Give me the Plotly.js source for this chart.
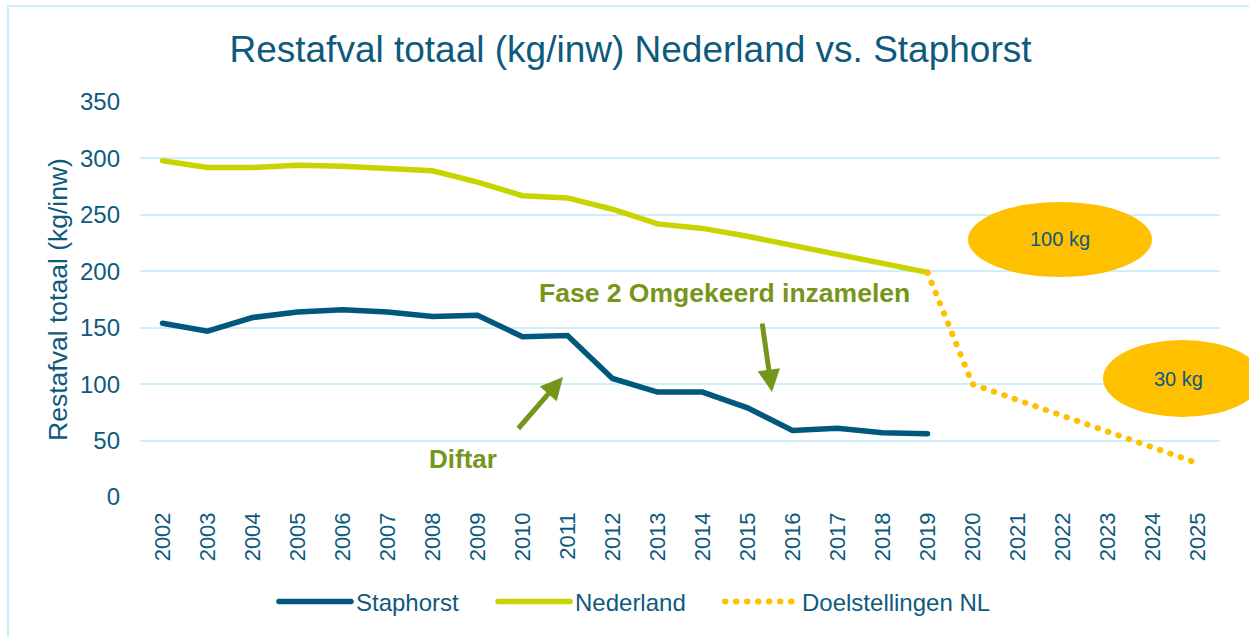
<!DOCTYPE html>
<html>
<head>
<meta charset="utf-8">
<script src="https://cdn.plot.ly/plotly-3.0.1.min.js"></script>
<style>
  html, body { margin: 0; padding: 0; background: #ffffff; }
  #chart { width: 1249px; height: 637px; }
</style>
</head>
<body>
<div id="chart"></div>
<script>
// ---- data ----
const years = ['2002','2003','2004','2005','2006','2007','2008','2009','2010','2011','2012','2013',
               '2014','2015','2016','2017','2018','2019','2020','2021','2022','2023','2024','2025'];
const measuredYears = years.slice(0, 18); // 2002..2019
const staphorst = [154, 147, 159, 164, 166, 164, 160, 161, 142, 143, 105, 93, 93, 79, 59, 61, 57, 56];
const nederland = [298, 292, 292, 294, 293, 291, 289, 279, 267, 265, 255, 242, 238, 231, 223, 214, 207, 199];
const doelYears = ['2019', '2020', '2025'];
const doelstellingen = [199, 100, 30];
const seriesNames = ['Staphorst', 'Nederland', 'Doelstellingen NL'];
const titleText = 'Restafval totaal (kg/inw) Nederland vs. Staphorst';
const yTitleText = 'Restafval totaal (kg/inw)';
const ellipseLabels = ['100 kg', '30 kg'];
const noteLabels = ['Fase 2 Omgekeerd inzamelen', 'Diftar'];

// ---- styling ----
const FONT = 'Liberation Sans, Arial, Helvetica, sans-serif';
const TXT = '#0e5a7d';
const BLUE = '#00587c';
const LIME = '#c8d400';
const GOLD = '#ffc000';
const GRID = '#cdeefb';
const GREEN = '#76961b';

// pixel helpers for layout-only positions (plot area: x 140..1220, y 102..497)
const L = 140, R = 1220, T = 102, B = 497, W = 1249, H = 637;
const px = v => (v - L) / (R - L);
const py = v => (B - v) / (B - T);

const traces = [
  { x: measuredYears, y: staphorst, name: seriesNames[0], type: 'scatter', mode: 'lines',
    line: { color: BLUE, width: 5.5 }, legend: 'legend' },
  { x: measuredYears, y: nederland, name: seriesNames[1], type: 'scatter', mode: 'lines',
    line: { color: LIME, width: 5.5 }, legend: 'legend2' },
  { x: doelYears, y: doelstellingen, name: seriesNames[2], type: 'scatter', mode: 'lines',
    line: { color: GOLD, width: 6, dash: '0.5px,10.5px' }, legend: 'legend3' }
];

const legendBase = { orientation: 'h', xanchor: 'left', y: py(602), yanchor: 'middle',
                     font: { size: 24, color: TXT }, itemwidth: 72, bgcolor: 'rgba(0,0,0,0)' };
const LEG_OFF = 4;

const layout = {
  width: W, height: H,
  paper_bgcolor: '#ffffff', plot_bgcolor: '#ffffff',
  margin: { l: L, r: W - R, t: T, b: H - B },
  font: { family: FONT, color: TXT },
  title: { text: titleText, font: { family: FONT, size: 37, color: TXT },
           xref: 'container', x: 630.5 / W, xanchor: 'center',
           yref: 'container', y: 1 - 49 / H, yanchor: 'middle' },
  xaxis: {
    type: 'category', categoryorder: 'array', categoryarray: years,
    range: [-0.5, years.length - 0.5],
    tickangle: -90, tickfont: { size: 22, color: TXT },
    showgrid: false, zeroline: false, showline: false, ticks: '',
    ticklabelstandoff: 10
  },
  yaxis: {
    range: [0, 350], dtick: 50, tick0: 0,
    tickfont: { size: 24, color: TXT },
    showgrid: true, gridcolor: GRID, gridwidth: 2,
    zeroline: false, showline: false, ticks: '',
    ticklabelstandoff: 19,
    title: { text: yTitleText, font: { size: 26.5, color: TXT }, standoff: 4 }
  },
  showlegend: true,
  legend:  Object.assign({}, legendBase, { x: px(278 - LEG_OFF) }),
  legend2: Object.assign({}, legendBase, { x: px(497 - LEG_OFF) }),
  legend3: Object.assign({}, legendBase, { x: px(724 - LEG_OFF) }),
  shapes: [
    { type: 'rect', xref: 'paper', yref: 'paper', x0: px(8), x1: px(1290), y0: py(6), y1: py(700),
      line: { color: GRID, width: 2 }, fillcolor: 'rgba(0,0,0,0)', layer: 'below' },
    { type: 'circle', xref: 'paper', yref: 'paper', x0: px(968), x1: px(1152), y0: py(202), y1: py(277),
      fillcolor: GOLD, line: { width: 0 }, layer: 'above' },
    { type: 'circle', xref: 'paper', yref: 'paper', x0: px(1103), x1: px(1262), y0: py(340), y1: py(417),
      fillcolor: GOLD, line: { width: 0 }, layer: 'above' }
  ],
  annotations: [
    { xref: 'paper', yref: 'paper', x: px(1060), y: py(239), text: ellipseLabels[0], showarrow: false,
      font: { size: 20, color: TXT }, xanchor: 'center', yanchor: 'middle' },
    { xref: 'paper', yref: 'paper', x: px(1178), y: py(379), text: ellipseLabels[1], showarrow: false,
      font: { size: 20, color: TXT }, xanchor: 'center', yanchor: 'middle' },
    { xref: 'paper', yref: 'paper', x: px(724), y: py(293), text: '<b>' + noteLabels[0] + '</b>', showarrow: false,
      font: { size: 26.5, color: GREEN }, xanchor: 'center', yanchor: 'middle' },
    { xref: 'paper', yref: 'paper', x: px(463), y: py(459), text: '<b>' + noteLabels[1] + '</b>', showarrow: false,
      font: { size: 26, color: GREEN }, xanchor: 'center', yanchor: 'middle' },
    // arrows
    { xref: 'paper', yref: 'paper', x: px(563), y: py(377), ax: -46, ay: 53, text: '', showarrow: true,
      arrowhead: 2, arrowsize: 0.9, arrowwidth: 5, arrowcolor: GREEN, standoff: 0, startstandoff: 0 },
    { xref: 'paper', yref: 'paper', x: px(772), y: py(392), ax: -10, ay: -70, text: '', showarrow: true,
      arrowhead: 2, arrowsize: 0.9, arrowwidth: 5, arrowcolor: GREEN, standoff: 0, startstandoff: 0 }
  ]
};

Plotly.newPlot('chart', traces, layout, { displayModeBar: false, staticPlot: true }).then(gd => {
  // round caps so the target line shows round dots (plot + legend)
  gd.querySelectorAll('path.js-line').forEach(p => { p.style.strokeLinecap = 'round'; });
});
</script>
</body>
</html>
